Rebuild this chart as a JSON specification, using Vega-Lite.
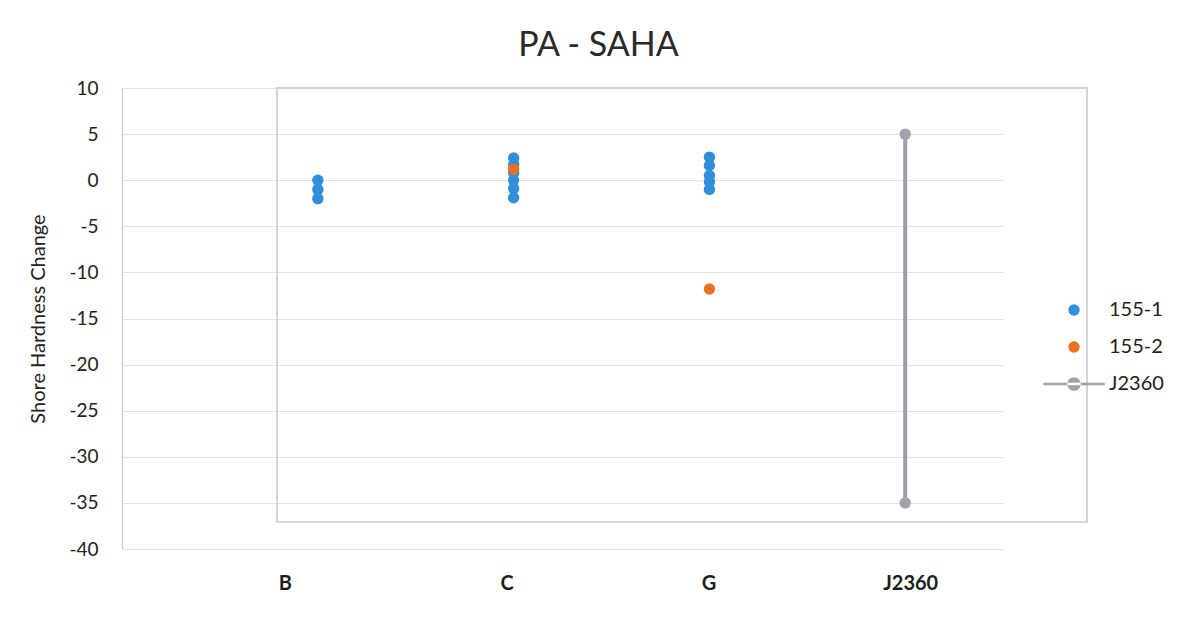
{
  "$schema": "https://vega.github.io/schema/vega-lite/v6.json",
  "width": 881,
  "height": 461,
  "autosize": {"type": "none"},
  "padding": {"left": 122, "top": 88, "right": 183, "bottom": 79},
  "background": "white",
  "title": {
    "text": "PA - SAHA",
    "fontSize": 34,
    "font": "Lato",
    "fontWeight": "normal",
    "color": "#2a2a2a",
    "anchor": "middle",
    "offset": 16,
    "dx": 36
  },
  "config": {
    "view": {"stroke": null},
    "font": "Lato"
  },
  "data": {
    "values": [
      {"cat": "B", "series": "155-1", "value": 0},
      {"cat": "B", "series": "155-1", "value": -1},
      {"cat": "B", "series": "155-1", "value": -2},
      {"cat": "C", "series": "155-1", "value": 2.4},
      {"cat": "C", "series": "155-1", "value": 1.7},
      {"cat": "C", "series": "155-1", "value": 0.8},
      {"cat": "C", "series": "155-1", "value": 0},
      {"cat": "C", "series": "155-1", "value": -0.9},
      {"cat": "C", "series": "155-1", "value": -1.9},
      {"cat": "C", "series": "155-2", "value": 1.2},
      {"cat": "G", "series": "155-1", "value": 2.5},
      {"cat": "G", "series": "155-1", "value": 1.6},
      {"cat": "G", "series": "155-1", "value": 0.5},
      {"cat": "G", "series": "155-1", "value": -0.2},
      {"cat": "G", "series": "155-1", "value": -1},
      {"cat": "G", "series": "155-2", "value": -11.8},
      {"cat": "J2360", "series": "J2360", "value": 5},
      {"cat": "J2360", "series": "J2360", "value": -35}
    ]
  },
  "layer": [
    {
      "mark": {"type": "rect", "fill": null, "stroke": "#d2d3dc", "strokeWidth": 1.2, "clip": false},
      "encoding": {
        "x": {"datum": 0.79, "type": "quantitative", "scale": {"domain": [0, 4.5], "nice": false, "zero": false}, "axis": null},
        "x2": {"datum": 4.93},
        "y": {
          "datum": 10,
          "type": "quantitative",
          "scale": {"domain": [-40, 10], "nice": false, "zero": false},
          "axis": {
            "values": [-40, -35, -30, -25, -20, -15, -10, -5, 0, 5, 10],
            "labelExpr": "'' + datum.value",
            "title": "Shore Hardness Change",
            "titleFontSize": 20,
            "titleFontWeight": "normal",
            "titleColor": "#222222",
            "titlePadding": 20,
            "labelFontSize": 19,
            "labelColor": "#222222",
            "labelPadding": 24,
            "ticks": false,
            "domain": true,
            "domainColor": "#c8cad6",
            "domainWidth": 1.2,
            "grid": true,
            "gridColor": "#e2e2e6",
            "gridWidth": 1
          }
        },
        "y2": {"datum": -37.1}
      }
    },
    {
      "encoding": {
        "x": {
          "field": "cat",
          "type": "ordinal",
          "scale": {"type": "point", "domain": ["B", "C", "G", "J2360"], "padding": 0.75, "align": 0.667},
          "axis": {
            "title": null,
            "labelAngle": 0,
            "labelFontSize": 20,
            "labelFontWeight": "bold",
            "labelColor": "#1e1e1e",
            "labelPadding": 24,
            "labelOffset": {
              "condition": [
                {"test": "datum.value === 'B'", "value": -33},
                {"test": "datum.value === 'C'", "value": -7},
                {"test": "datum.value === 'G'", "value": -1}
              ],
              "value": 5
            },
            "ticks": false,
            "domain": false,
            "grid": false
          }
        },
        "y": {
          "field": "value",
          "type": "quantitative",
          "scale": {"domain": [-40, 10], "nice": false, "zero": false},
          "axis": {
            "values": [-40, -35, -30, -25, -20, -15, -10, -5, 0, 5, 10],
            "labelExpr": "'' + datum.value",
            "title": "Shore Hardness Change",
            "titleFontSize": 20,
            "titleFontWeight": "normal",
            "titleColor": "#222222",
            "titlePadding": 20,
            "labelFontSize": 19,
            "labelColor": "#222222",
            "labelPadding": 24,
            "ticks": false,
            "domain": true,
            "domainColor": "#c8cad6",
            "domainWidth": 1.2,
            "grid": true,
            "gridColor": "#e2e2e6",
            "gridWidth": 1
          }
        },
        "color": {
          "field": "series",
          "type": "nominal",
          "scale": {"domain": ["155-1", "155-2", "J2360"], "range": ["#2f8fd8", "#ec7022", "#a2a2ac"]},
          "legend": {
            "title": null,
            "orient": "none",
            "legendX": 942,
            "legendY": 212,
            "labelFontSize": 20,
            "labelColor": "#222222",
            "symbolSize": 130,
            "symbolOpacity": 1,
            "rowPadding": 17,
            "labelOffset": 25,
            "symbolStrokeWidth": 0,
            "encode": {
              "symbols": {
                "update": {
                  "shape": {"signal": "datum.label === 'J2360' ? 'M-5.4,-0.22H5.4V0.22H-5.4Z M-1.2,0A1.2,1.2,0,1,0,1.2,0A1.2,1.2,0,1,0,-1.2,0Z' : 'circle'"}
                }
              }
            }
          }
        }
      },
      "layer": [
        {
          "transform": [{"filter": "datum.series === 'J2360'"}],
          "mark": {"type": "line", "strokeWidth": 4, "color": "#9e9ea8"},
          "encoding": {"color": {"value": "#9e9ea8"}}
        },
        {
          "mark": {"type": "point", "filled": true, "size": 130, "opacity": 1, "shape": "circle"}
        }
      ]
    }
  ],
  "resolve": {"scale": {"x": "independent", "y": "shared"}}
}
